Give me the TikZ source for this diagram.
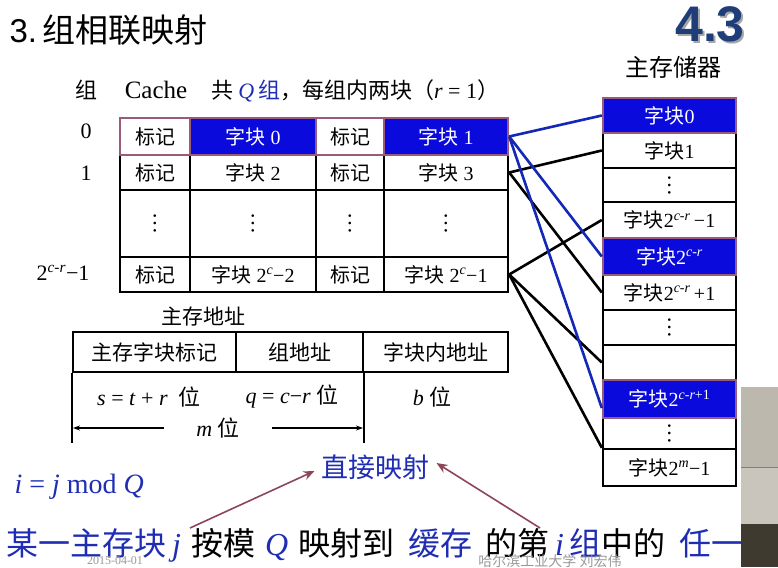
\documentclass[tikz,border=0pt]{standalone}
\usepackage{fontspec}
\setmainfont{Liberation Serif}
\newfontfamily\cjk{Noto Sans CJK SC}
\newfontfamily\arial{Liberation Sans}
\usepackage{xcolor}
\definecolor{blockblue}{HTML}{0A0ADC}
\definecolor{textblue}{HTML}{1E2DB4}
\definecolor{linkblue}{HTML}{1428B8}
\definecolor{mauve}{HTML}{9A5A78}
\definecolor{arrowred}{HTML}{8C4658}
\definecolor{titleblue}{HTML}{1F3D78}
\definecolor{photolight}{HTML}{BDB8AE}
\definecolor{photomid}{HTML}{C9C5BD}
\definecolor{photodark}{HTML}{3E3A30}
\usetikzlibrary{positioning, arrows.meta}
\newcommand{\vdotsbig}{\rotatebox{90}{\fontsize{22}{22}\selectfont …}}

\begin{document}
\begin{tikzpicture}[x=1pt, y=-1pt,
    cell/.style={draw=black, fill=white, line width=2.4pt, inner sep=0pt,
                 font=\fontsize{20}{22}\selectfont},
    hot/.style={cell, draw=mauve, fill=blockblue, text=white},
    hottag/.style={cell, draw=mauve},
    addr/.style={draw=black, line width=2.4pt, inner sep=0pt,
                 minimum height=40pt, font=\fontsize{21}{24}\selectfont},
    label/.style={font=\fontsize{22}{24}\selectfont},
    link/.style={draw=black, line width=2.6pt},
    bluelink/.style={draw=linkblue, line width=2.6pt},
    hint/.style={draw=arrowred, line width=1.6pt, -{Stealth[length=11pt, width=9pt]}},
]
\useasboundingbox[fill=white] (0,0) rectangle (778,567);

% Titel
\node[anchor=west, font=\fontsize{33}{36}\selectfont] (title) at (6,30)
    {\arial 3.\,\cjk 组相联映射};
\node[text=black!35, font=\arial\bfseries\fontsize{50}{52}\selectfont] at (712,26) {4.3};
\node[text=titleblue, font=\arial\bfseries\fontsize{50}{52}\selectfont] (chap) at (710,24) {4.3};

% Cache kop
\node[label] (grp) at (86,90) {\cjk 组};
\node[font=\fontsize{25}{26}\selectfont] (cache) at (156,90) {Cache};
\node[label, anchor=west] (info) at (208,91)
    {\cjk 共 \textcolor{textblue}{\rmfamily\textit{Q}\,\cjk 组}，每组内两块（\rmfamily\textit{r} = 1\cjk ）};
\node[label] (g0) at (86,131) {0};
\node[label] (g1) at (86,173) {1};
\node[label, anchor=east] (gn) at (93,273) {2\textsuperscript{\textit{c-r}}−1};

% Cache rijen 1 .. 2^{c-r}-1
\node[cell, minimum width=70pt, minimum height=35pt] (c10) at (155,172.5) {\cjk 标记};
\node[cell, minimum width=126pt, minimum height=35pt] (c11) at (253,172.5) {{\cjk 字块} 2};
\node[cell, minimum width=68pt, minimum height=35pt] (c12) at (350,172.5) {\cjk 标记};
\node[cell, minimum width=124pt, minimum height=35pt] (c13) at (446,172.5) {{\cjk 字块} 3};

\node[cell, minimum width=70pt, minimum height=67pt] (c20) at (155,223.5) {\vdotsbig};
\node[cell, minimum width=126pt, minimum height=67pt] (c21) at (253,223.5) {\vdotsbig};
\node[cell, minimum width=68pt, minimum height=67pt] (c22) at (350,223.5) {\vdotsbig};
\node[cell, minimum width=124pt, minimum height=67pt] (c23) at (446,223.5) {\vdotsbig};

\node[cell, minimum width=70pt, minimum height=35pt] (c30) at (155,274.5) {\cjk 标记};
\node[cell, minimum width=126pt, minimum height=35pt] (c31) at (253,274.5) {{\cjk 字块} 2\textsuperscript{\textit{c}}−2};
\node[cell, minimum width=68pt, minimum height=35pt] (c32) at (350,274.5) {\cjk 标记};
\node[cell, minimum width=124pt, minimum height=35pt] (c33) at (446,274.5) {{\cjk 字块} 2\textsuperscript{\textit{c}}−1};

% Cache rij 0
\node[hottag, minimum width=70pt, minimum height=37pt] (c00) at (155,136.5) {\cjk 标记};
\node[hot, minimum width=126pt, minimum height=37pt] (c01) at (253,136.5) {{\cjk 字块} 0};
\node[hottag, minimum width=68pt, minimum height=37pt] (c02) at (350,136.5) {\cjk 标记};
\node[hot, minimum width=124pt, minimum height=37pt] (c03) at (446,136.5) {{\cjk 字块} 1};

% Hoofdgeheugen
\node[font=\fontsize{24}{26}\selectfont] (mainmem) at (673,67) {\cjk 主存储器};
\node[cell, minimum width=133pt, minimum height=35pt] (m1) at (669.5,150.5) {{\cjk 字块}1};
\node[cell, minimum width=133pt, minimum height=34pt] (m2) at (669.5,185) {\vdotsbig};
\node[cell, minimum width=133pt, minimum height=36pt] (m3) at (669.5,220) {{\cjk 字块}2\textsuperscript{\textit{c-r}}\,−1};
\node[cell, minimum width=133pt, minimum height=35pt] (m5) at (669.5,292.5) {{\cjk 字块}2\textsuperscript{\textit{c-r}}\,+1};
\node[cell, minimum width=133pt, minimum height=35pt] (m6) at (669.5,327.5) {\vdotsbig};
\node[cell, minimum width=133pt, minimum height=35pt] (m7) at (669.5,362.5) {};
\node[cell, minimum width=133pt, minimum height=31pt] (m9) at (669.5,433.5) {\vdotsbig};
\node[cell, minimum width=133pt, minimum height=37pt] (m10) at (669.5,467.5) {{\cjk 字块}2\textsuperscript{\textit{m}}−1};
\node[hot, minimum width=133pt, minimum height=35pt] (m0) at (669.5,115.5) {{\cjk 字块}0};
\node[hot, minimum width=133pt, minimum height=37pt] (m4) at (669.5,256.5) {{\cjk 字块}2\textsuperscript{\textit{c-r}}};
\node[hot, minimum width=133pt, minimum height=38pt] (m8) at (669.5,399) {{\cjk 字块}2\textsuperscript{\textit{c-r}+1}};

% Verbindingen
\draw[link] (c13.east) -- (m1.west);
\draw[link] (c13.east) -- (m5.west);
\draw[link] (c33.east) -- (m3.west);
\draw[link] (c33.east) -- (m7.west);
\draw[link] (c33.east) -- (m10.north west);
\draw[bluelink] (c03.east) -- (m0.west);
\draw[bluelink] (c03.east) -- (m4.west);
\draw[bluelink] (c03.east) -- ([yshift=-9pt]m8.west);

% Hoofdgeheugenadres
\node[font=\fontsize{21}{24}\selectfont] (addrtitle) at (203,317) {\cjk 主存地址};
\node[addr, minimum width=163pt] (a1) at (154.5,352) {\cjk 主存字块标记};
\node[addr, minimum width=127pt] (a2) at (299.5,352) {\cjk 组地址};
\node[addr, minimum width=145pt] (a3) at (435.5,352) {\cjk 字块内地址};
\draw[line width=2.4pt] (a1.south west) -- ++(0,70);
\draw[line width=2.4pt] (a2.south east) -- ++(0,70);
\node[label] (sbits) at (149,397) {\textit{s} = \textit{t} + \textit{r} \ {\cjk 位}};
\node[label] (qbits) at (292,397) {\textit{q} = \textit{c}−\textit{r} {\cjk 位}};
\node[label] (bbits) at (432,397) {\textit{b} {\cjk 位}};
\coordinate (mleft) at (73,428);
\coordinate (mright) at (363,428);
\draw[line width=1.5pt, {Stealth[length=7pt, width=5pt]}-{Stealth[length=7pt, width=5pt]}] (mleft) -- (mright)
    node[midway, fill=white, minimum width=108pt, label, inner sep=0pt] (mbits) {\textit{m} {\cjk 位}};

% Formule en zin
\node[text=textblue, font=\fontsize{27}{30}\selectfont] (zj) at (375,467) {\cjk 直接映射};
\node[anchor=west, text=textblue, font=\fontsize{28}{30}\selectfont] (formula) at (11,487)
    {\textit{i} = \textit{j} mod \textit{Q}};
\node[anchor=west, font=\fontsize{32}{34}\selectfont, inner sep=0pt] (zin) at (6,545)
    {{\color{textblue}\cjk 某一主存块}\hspace{6pt}\textcolor{textblue}{\textit{j}}\hspace{10pt}{\cjk 按模}\hspace{10pt}%
     \textcolor{textblue}{\textit{Q}}\hspace{10pt}{\cjk 映射到}\hspace{14pt}{\color{textblue}\cjk 缓存}\hspace{13pt}{\cjk 的第}\hspace{6pt}%
     \textcolor{textblue}{\textit{i}\,\cjk 组}{\cjk 中的}\hspace{14pt}{\color{textblue}\cjk 任一块}};
\coordinate (hintA) at (190,528);
\coordinate (hintB) at (540,528);
\draw[hint] (hintA) -- ([xshift=-3pt, yshift=-4pt]zj.west);
\draw[hint] (hintB) -- ([xshift=4pt, yshift=4pt]zj.east);

% Watermerk
\node[text=black!40, font=\fontsize{12}{13}\selectfont] (date) at (115,561) {2015-04-01};
\node[text=black!40, font=\fontsize{14}{15}\selectfont] (uni) at (550,561) {\cjk 哈尔滨工业大学\ 刘宏伟};

% Camerabeeld
\fill[photolight] (741,387) rectangle (778,467);
\fill[photomid] (741,467) rectangle (778,524);
\fill[photodark] (741,524) rectangle (778,567);
\draw[black!50, line width=0.8pt] (741,467) -- (778,467);

\end{tikzpicture}
\end{document}
